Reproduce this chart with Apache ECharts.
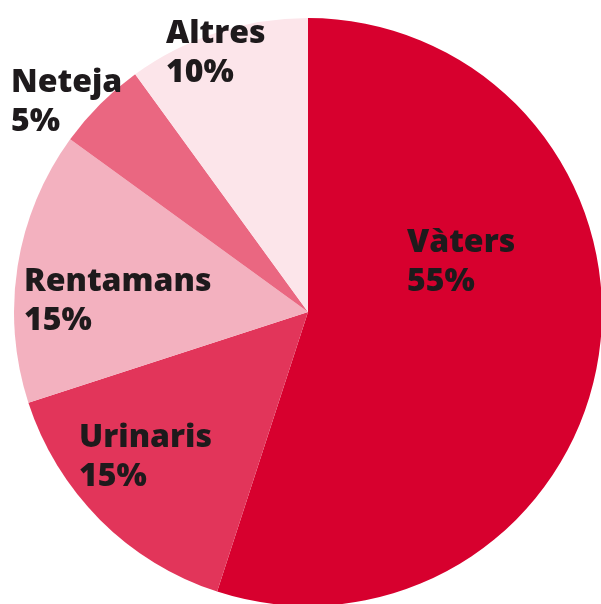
<!DOCTYPE html>
<html>
<head>
<meta charset="utf-8">
<script src="https://cdn.jsdelivr.net/npm/echarts@6/dist/echarts.min.js"></script>
<style>
html,body{margin:0;padding:0;background:#fff;}
#chart{width:601px;height:604px;}
</style>
</head>
<body>
<div id="chart"></div>
<script>
const categories = ['Vàters', 'Urinaris', 'Rentamans', 'Neteja', 'Altres'];
const values = [55, 15, 15, 5, 10];

const colors = ['#d7002e', '#e2355a', '#f3b1bf', '#ea6781', '#fce5ea'];
// label anchor (left, vertical middle) relative to the pie centre
const labelAnchors = [[99, -50], [-229, 145], [-284, -11], [-297, -210], [-142, -259]];

const chart = echarts.init(document.getElementById('chart'), null, {renderer: 'canvas'});
const cx = 308, cy = 312;
chart.setOption({
  animation: false,
  series: [{
    type: 'pie',
    center: [cx, cy],
    radius: [0, 294],
    startAngle: 90,
    clockwise: true,
    silent: true,
    itemStyle: {borderWidth: 0},
    label: {
      show: true,
      position: 'inside',
      formatter: p => p.name + '\n' + p.value + '%',
      color: '#1e1a1c',
      fontFamily: 'Open Sans',
      fontWeight: 800,
      fontSize: 32,
      lineHeight: 39,
      align: 'left'
    },
    labelLine: {show: false},
    labelLayout: function (params) {
      const a = labelAnchors[params.dataIndex];
      return {x: cx + a[0], y: cy + a[1], align: 'left', verticalAlign: 'middle'};
    },
    data: categories.map((c, i) => ({name: c, value: values[i], itemStyle: {color: colors[i]}}))
  }]
});
</script>
</body>
</html>
